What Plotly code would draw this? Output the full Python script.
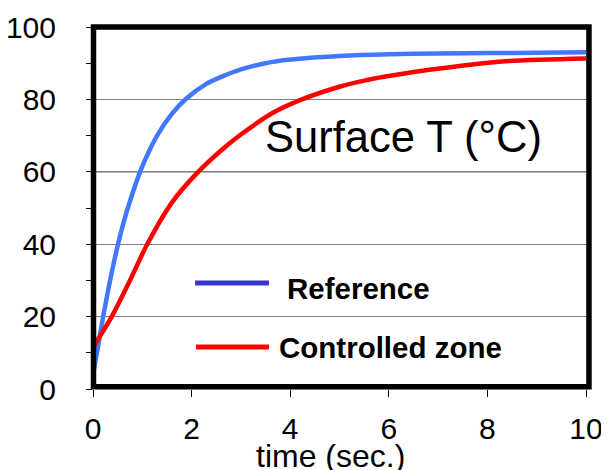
import plotly.graph_objects as go

# Data
ref_t = [0, 0.1, 0.2, 0.4, 0.6, 0.8, 1.0, 1.3, 1.6, 1.9, 2.3, 2.65, 3.0, 3.5, 4.0, 5.0, 6.0, 7.0, 8.0, 9.0, 10]
ref_v = [4, 11.5, 19.5, 33.5, 45, 54, 61.5, 70, 76, 80.3, 84.3, 86.5, 88.3, 90, 91, 92, 92.5, 92.7, 92.8, 92.9, 93]

ctl_t = [0, 0.4, 0.75, 1.1, 1.6, 2.1, 2.65, 3.0, 3.65, 4.2, 5.0, 5.5, 6.9, 8.3, 10]
ctl_v = [11.5, 20.5, 30, 40, 51.5, 59.5, 66.5, 70.3, 76.3, 79.8, 83.5, 85.2, 88.3, 90.5, 91.3]

x_ticks = [0, 2, 4, 6, 8, 10]
y_ticks = [0, 20, 40, 60, 80, 100]

FONT = "Liberation Sans, Arial, sans-serif"

fig = go.Figure()
fig.add_trace(go.Scatter(x=ref_t, y=ref_v, mode="lines",
                         line=dict(color="#4178ff", width=4.5, shape="spline", smoothing=0.7),
                         showlegend=False, name="Reference"))
fig.add_trace(go.Scatter(x=ctl_t, y=ctl_v, mode="lines",
                         line=dict(color="#ff0000", width=4.5, shape="spline", smoothing=0.7),
                         showlegend=False, name="Controlled zone"))

# The page body has an 8px margin, so the margins are offset to compensate.
fig.update_layout(
    width=609, height=470,
    margin=dict(l=85, r=31, t=19, b=89),
    paper_bgcolor="white", plot_bgcolor="white",
    font=dict(family=FONT, color="black"),
    xaxis=dict(range=[0, 10], tickvals=x_ticks, showgrid=False, zeroline=False, automargin=False,
               showline=False,
               ticks="outside", ticklen=7, tickcolor="black", tickwidth=1,
               tickfont=dict(size=30), ticklabelstandoff=6),
    yaxis=dict(range=[0, 100], tickvals=y_ticks, showgrid=True, gridcolor="#808080", gridwidth=1,
               zeroline=False, showline=False, automargin=False,
               ticks="outside", ticklen=6, tickcolor="black", tickwidth=1,
               minor=dict(ticks="outside", ticklen=6, tickcolor="black", dtick=10, tick0=0, showgrid=False),
               tickfont=dict(size=30), ticklabelstandoff=24),
)

# darker gridline at 60
fig.add_shape(type="line", xref="x domain", yref="y", x0=0, x1=1, y0=60, y1=60,
              line=dict(color="black", width=1), layer="below")

# thick frame around the plot area
fig.add_shape(type="rect", xref="x domain", yref="y domain", x0=0.001, x1=1.006, y0=0.006, y1=1.0,
              line=dict(color="black", width=5.5), fillcolor="rgba(0,0,0,0)", layer="above")

# Title inside plot
fig.add_annotation(text="Surface T (°C)", xref="paper", yref="paper", x=0.63, y=0.696,
                   xanchor="center", yanchor="middle", showarrow=False,
                   font=dict(size=43.5, family=FONT, color="black"))

# Axis title
fig.add_annotation(text="time (sec.)", xref="paper", yref="paper", x=0.482, y=-0.185,
                   xanchor="center", yanchor="middle", showarrow=False,
                   font=dict(size=32, family=FONT, color="black"))

# Manual legend
fig.add_shape(type="line", xref="paper", yref="paper", x0=0.207, x1=0.357, y0=0.293, y1=0.293,
              line=dict(color="#3636cc", width=5))
fig.add_shape(type="line", xref="paper", yref="paper", x0=0.209, x1=0.357, y0=0.116, y1=0.116,
              line=dict(color="#ff0000", width=5))
fig.add_annotation(text="<b>Reference</b>", xref="paper", yref="paper", x=0.389, y=0.278,
                   xanchor="left", yanchor="middle", showarrow=False,
                   font=dict(size=29.5, family=FONT, color="black"))
fig.add_annotation(text="<b>Controlled zone</b>", xref="paper", yref="paper", x=0.374, y=0.114,
                   xanchor="left", yanchor="middle", showarrow=False,
                   font=dict(size=29.5, family=FONT, color="black"))

fig.write_html("out.html")
